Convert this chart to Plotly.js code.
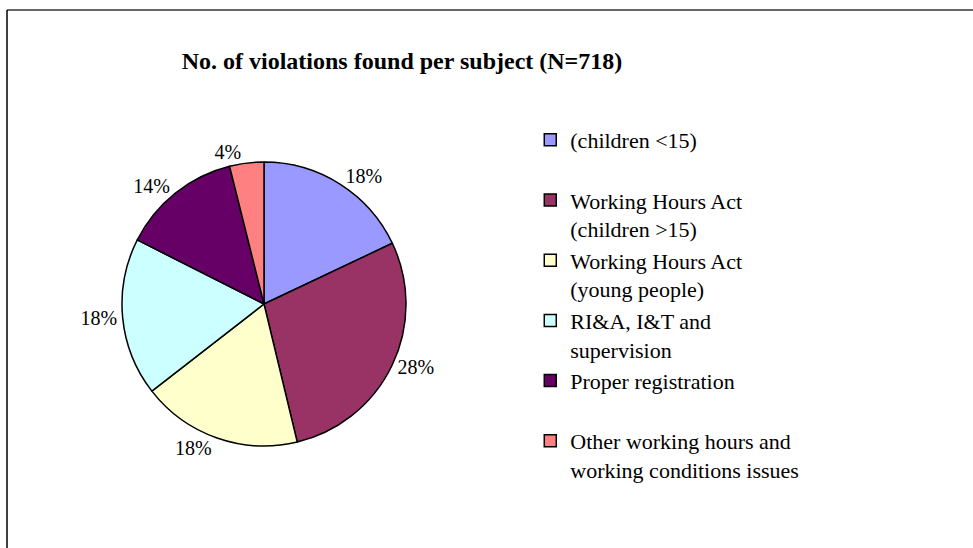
<!DOCTYPE html>
<html>
<head>
<meta charset="utf-8">
<script src="https://cdn.plot.ly/plotly-3.0.1.min.js"></script>
<style>html,body{margin:0;padding:0;background:#fff;}#chart{width:973px;height:548px;}</style>
</head>
<body>
<div id="chart"></div>
<script>
// Data (N = 718)
const categories = [
  "(children <15)",
  "Working Hours Act<br>(children >15)",
  "Working Hours Act<br>(young people)",
  "RI&A, I&T and<br>supervision",
  "Proper registration",
  "Other working hours and<br>working conditions issues"
];
const violations = [129, 203, 131, 129, 98, 28];
const sliceColors = ["#9999FF", "#993366", "#FFFFCC", "#CCFFFF", "#660066", "#FF8080"];

// pad single-line legend entries to two lines so every entry takes equal height
const legendLabels = categories.map(c => c.indexOf("<br>") >= 0 ? c : c + "<br> ");

const W = 973, H = 548;
const cx = 264, cy = 304, r = 142;
const serif = "Liberation Serif, Times New Roman, serif";

const trace = {
  type: "pie",
  labels: legendLabels,
  values: violations,
  sort: false,
  direction: "clockwise",
  rotation: 0,
  marker: {colors: sliceColors, line: {color: "#000000", width: 1.5}},
  textposition: "outside",
  texttemplate: "%{percent:.0%}",
  textfont: {family: serif, size: 20, color: "#000000"},
  outsidetextfont: {family: serif, size: 20, color: "#000000"},
  hoverinfo: "label+value+percent",
  domain: {x: [(cx - r) / W, (cx + r) / W], y: [1 - (cy + r) / H, 1 - (cy - r) / H]},
  automargin: false
};

const layout = {
  width: W, height: H,
  margin: {l: 0, r: 0, t: 0, b: 0},
  paper_bgcolor: "#ffffff",
  plot_bgcolor: "#ffffff",
  font: {family: serif, color: "#000000"},
  title: {
    text: "No. of violations found per subject (N=718)",
    font: {family: serif, size: 24, weight: 700, color: "#000000"},
    x: 402 / W, xanchor: "center", xref: "container",
    y: 1 - 61 / H, yanchor: "middle", yref: "container"
  },
  showlegend: true,
  legend: {
    x: 0.545, xanchor: "left",
    y: 1 - 119 / H, yanchor: "top",
    valign: "top",
    font: {family: serif, size: 22, color: "#000000"},
    bgcolor: "rgba(0,0,0,0)",
    borderwidth: 0
  },
  shapes: [
    {type: "line", xref: "paper", yref: "paper", x0: 7 / W, x1: 1, y0: 1 - 10 / H, y1: 1 - 10 / H,
     line: {color: "#333333", width: 1.5}},
    {type: "line", xref: "paper", yref: "paper", x0: 7 / W, x1: 7 / W, y0: 0, y1: 1 - 10 / H,
     line: {color: "#000000", width: 1.5}}
  ]
};

Plotly.newPlot("chart", [trace], layout, {displayModeBar: false, staticPlot: true});
</script>
</body>
</html>
